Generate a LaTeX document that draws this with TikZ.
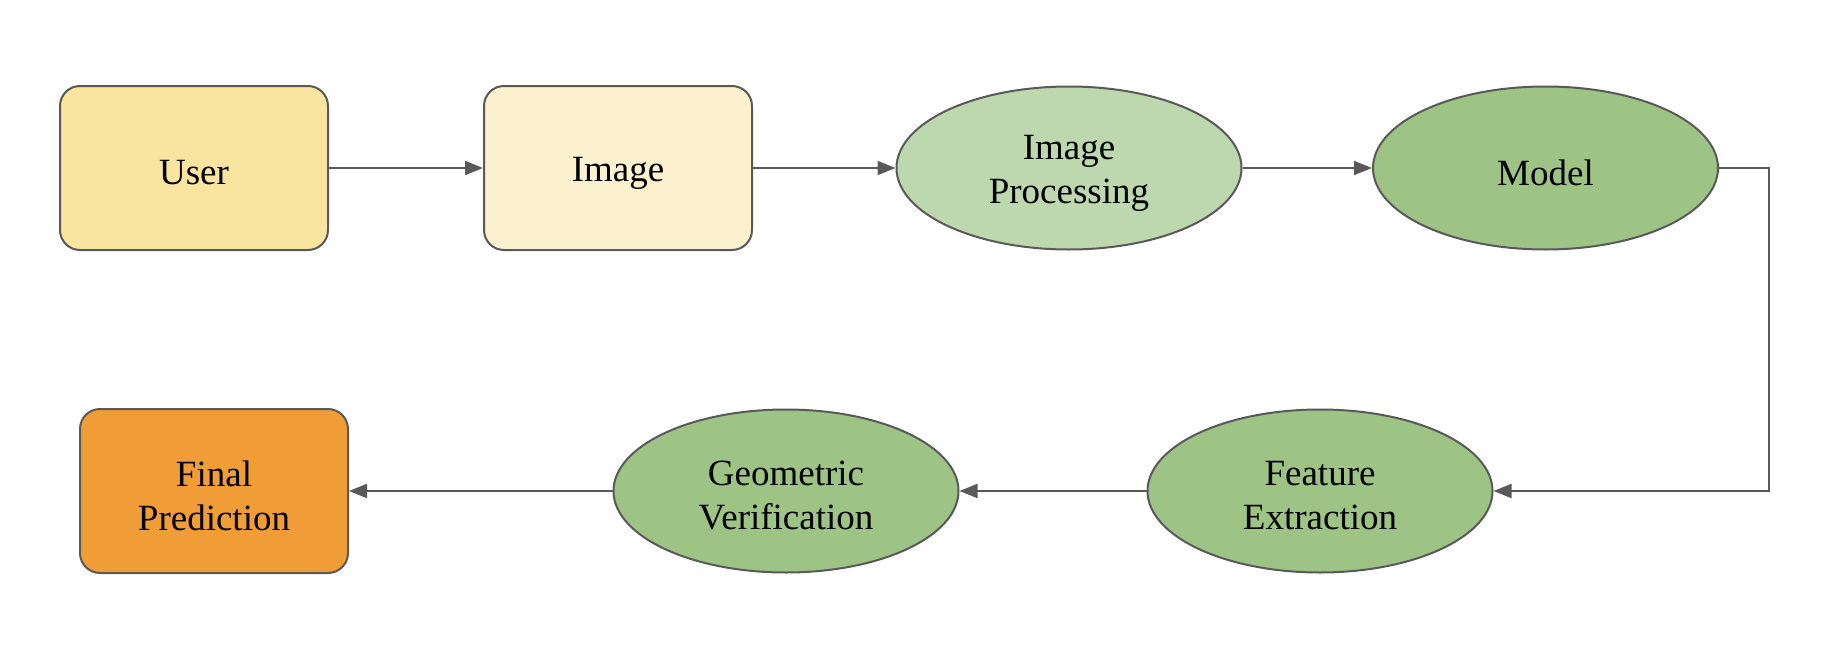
\documentclass[tikz,border=0pt]{standalone}
\usepackage{fontspec}
\setmainfont{Liberation Serif}
\usetikzlibrary{shapes.geometric,arrows.meta}
\definecolor{strokec}{HTML}{595959}
\definecolor{userc}{HTML}{F9E4A0}
\definecolor{imagec}{HTML}{FCF1CF}
\definecolor{procc}{HTML}{BDD7AE}
\definecolor{greenc}{HTML}{9DC385}
\definecolor{finalc}{HTML}{F09D38}
\tikzset{
  txt/.style={inner sep=0pt, align=center, yshift=-5pt, font=\fontsize{37}{44}\selectfont},
  box/.style={draw=strokec, line width=2pt, rounded corners=20pt, minimum width=268pt, minimum height=164pt, inner sep=0pt},
  oval/.style={draw=strokec, line width=2pt, ellipse, minimum width=345pt, minimum height=163pt, inner sep=0pt},
  conn/.style={draw=strokec, line width=2pt, -{Triangle[length=18pt,width=14pt]}}
}
\begin{document}
\begin{tikzpicture}[x=1pt,y=-1pt]
\useasboundingbox (0,0) rectangle (1840,664);
\node[box, fill=userc, label={[txt]center:User}] (user) at (194,168) {};
\node[box, fill=imagec, label={[txt]center:Image}] (image) at (618,168) {};
\node[oval, fill=procc, label={[txt]center:Image\\Processing}] (proc) at (1069,168) {};
\node[oval, fill=greenc, label={[txt]center:Model}] (model) at (1545.5,168) {};
\node[oval, fill=greenc, label={[txt]center:Feature\\Extraction}] (feat) at (1320,491) {};
\node[oval, fill=greenc, label={[txt]center:Geometric\\Verification}] (geo) at (786,491) {};
\node[box, fill=finalc, label={[txt]center:Final\\Prediction}] (final) at (214,491) {};
\coordinate (c1) at (1769,168);
\coordinate (c2) at (1769,491);
\draw[conn] (user.east) -- (image.west);
\draw[conn] (image.east) -- (proc.west);
\draw[conn] (proc.east) -- (model.west);
\draw[conn] (model.east) -- (c1) -- (c2) -- (feat.east);
\draw[conn] (feat.west) -- (geo.east);
\draw[conn] (geo.west) -- (final.east);
\end{tikzpicture}
\end{document}
